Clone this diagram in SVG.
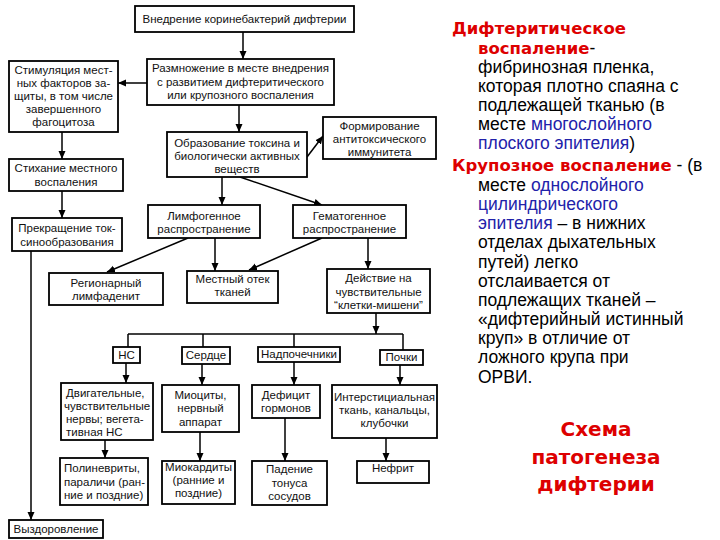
<svg xmlns="http://www.w3.org/2000/svg" width="720" height="540" viewBox="0 0 720 540">
<defs>
<marker id="ah" markerWidth="8" markerHeight="8" refX="8" refY="4" orient="auto" markerUnits="userSpaceOnUse">
<path d="M0,0.5 L8,4 L0,7.5 Z" fill="#000"/>
</marker>
<style>
.b{fill:#fff;stroke:#000;stroke-width:1.8}
.t{font-family:"Liberation Sans",Arial,sans-serif;font-size:11.5px;fill:#111;text-anchor:middle}
.l{text-anchor:start}
.c line,.c path{stroke:#000;stroke-width:1.5;fill:none}
.a{marker-end:url(#ah)}
.r{font-family:"Liberation Sans",Arial,sans-serif;font-size:17.5px;fill:#000}
.red{fill:#dd0000;font-weight:bold;font-family:"DejaVu Sans","Liberation Sans",sans-serif;font-size:16.5px}
.blue{fill:#2222aa}
.h{font-family:"DejaVu Sans","Liberation Sans",sans-serif;font-size:20px;font-weight:bold;fill:#dd0000;text-anchor:middle}
</style>
</defs>
<rect width="720" height="540" fill="#fff"/>

<g class="c" id="connectors">
<line class="a" x1="243" y1="32" x2="243" y2="59"/>
<line class="a" x1="147" y1="83" x2="118" y2="83"/>
<line class="a" x1="62" y1="132" x2="62" y2="159"/>
<line class="a" x1="62" y1="191" x2="62" y2="218"/>
<line class="a" x1="31" y1="251" x2="31" y2="520"/>
<line class="a" x1="239" y1="105" x2="239" y2="132"/>
<line class="a" x1="307" y1="157" x2="323" y2="136"/>
<line class="a" x1="222" y1="177" x2="222" y2="205"/>
<line class="a" x1="240" y1="177" x2="322" y2="205"/>
<line class="a" x1="188" y1="238" x2="107" y2="272"/>
<line class="a" x1="215" y1="238" x2="215" y2="271"/>
<line class="a" x1="322" y1="238" x2="249" y2="270"/>
<line class="a" x1="368" y1="238" x2="368" y2="269"/>
<line class="a" x1="376" y1="313" x2="376" y2="334"/>
<line x1="128" y1="334" x2="403" y2="334"/>
<line x1="128" y1="334" x2="128" y2="347"/>
<line x1="203" y1="334" x2="203" y2="347"/>
<line x1="294" y1="334" x2="294" y2="347"/>
<line x1="403" y1="334" x2="403" y2="350"/>
<line class="a" x1="126" y1="363" x2="126" y2="383"/>
<line class="a" x1="105" y1="440" x2="105" y2="458"/>
<line class="a" x1="202" y1="364" x2="202" y2="385"/>
<line class="a" x1="200" y1="432" x2="200" y2="461"/>
<line class="a" x1="294" y1="362" x2="294" y2="385"/>
<line class="a" x1="285" y1="418" x2="285" y2="461"/>
<line class="a" x1="400" y1="365" x2="400" y2="385"/>
<line class="a" x1="386" y1="438" x2="386" y2="461"/>
</g>

<g id="n-vnedrenie"><rect class="b" x="135" y="6" width="219" height="26"/><text class="t" x="244.5" y="23">Внедрение коринебактерий дифтерии</text></g>
<g id="n-razmnozhenie"><rect class="b" x="147" y="59" width="187" height="46"/><text class="t" x="240.5" y="72">Размножение в месте внедрения</text><text class="t" x="240.5" y="86">с развитием дифтеритического</text><text class="t" x="240.5" y="99">или крупозного воспаления</text></g>
<g id="n-stimul"><rect class="b" x="9" y="61" width="109" height="71"/><text class="t" x="63.5" y="74">Стимуляция мест-</text><text class="t" x="63.5" y="87">ных факторов за-</text><text class="t" x="63.5" y="100">щиты, в том числе</text><text class="t" x="63.5" y="113">завершенного</text><text class="t" x="63.5" y="126">фагоцитоза</text></g>
<g id="n-stihanie"><rect class="b" x="9" y="159" width="114" height="32"/><text class="t" x="66" y="172">Стихание местного</text><text class="t" x="66" y="186">воспаления</text></g>
<g id="n-prekrash"><rect class="b" x="12" y="218" width="110" height="33"/><text class="t" x="67" y="232">Прекращение ток-</text><text class="t" x="67" y="246">синообразования</text></g>
<g id="n-vyzdorov"><rect class="b" x="9" y="520" width="94" height="18"/><text class="t" x="56" y="533">Выздоровление</text></g>
<g id="n-toksin"><rect class="b" x="167" y="132" width="140" height="45"/><text class="t" x="237" y="147">Образование токсина и</text><text class="t" x="237" y="160">биологически активных</text><text class="t" x="237" y="173">веществ</text></g>
<g id="n-formir"><rect class="b" x="323" y="117" width="113" height="42"/><text class="t" x="379.5" y="130">Формирование</text><text class="t" x="379.5" y="143">антитоксического</text><text class="t" x="379.5" y="156">иммунитета</text></g>
<g id="n-limfo"><rect class="b" x="148" y="205" width="112" height="33"/><text class="t" x="204" y="220">Лимфогенное</text><text class="t" x="204" y="233">распространение</text></g>
<g id="n-gemato"><rect class="b" x="293" y="205" width="113" height="33"/><text class="t" x="349.5" y="220">Гематогенное</text><text class="t" x="349.5" y="233">распространение</text></g>
<g id="n-region"><rect class="b" x="49" y="273" width="114" height="32"/><text class="t" x="106" y="287">Регионарный</text><text class="t" x="106" y="300">лимфаденит</text></g>
<g id="n-otek"><rect class="b" x="187" y="271" width="91" height="32"/><text class="t" x="232.5" y="283">Местный отек</text><text class="t" x="232.5" y="296">тканей</text></g>
<g id="n-deistvie"><rect class="b" x="327" y="269" width="103" height="44"/><text class="t" x="378.5" y="282">Действие на</text><text class="t" x="378.5" y="296">чувствительные</text><text class="t" x="378.5" y="309">“клетки-мишени”</text></g>
<g id="n-ns"><rect class="b" x="113" y="347" width="27" height="16"/><text class="t" x="126.5" y="359">НС</text></g>
<g id="n-serdce"><rect class="b" x="182" y="347" width="48" height="17"/><text class="t" x="206" y="359">Сердце</text></g>
<g id="n-nadpoch"><rect class="b" x="258" y="347" width="82" height="15"/><text class="t" x="299" y="358">Надпочечники</text></g>
<g id="n-pochki"><rect class="b" x="380" y="350" width="43" height="15"/><text class="t" x="401.5" y="361">Почки</text></g>
<g id="n-dvigat"><rect class="b" x="61" y="383" width="92" height="57"/><text class="t l" x="66" y="397">Двигательные,</text><text class="t" x="107" y="410">чувствительные</text><text class="t l" x="66" y="423">нервы; вегета-</text><text class="t l" x="66" y="436">тивная НС</text></g>
<g id="n-polinevr"><rect class="b" x="60" y="458" width="88" height="47"/><text class="t l" x="64" y="472">Полиневриты,</text><text class="t l" x="64" y="486">параличи (ран-</text><text class="t l" x="64" y="499">ние и поздние)</text></g>
<g id="n-miocity"><rect class="b" x="162" y="385" width="77" height="47"/><text class="t" x="200.5" y="399">Миоциты,</text><text class="t" x="200.5" y="412">нервный</text><text class="t" x="200.5" y="426">аппарат</text></g>
<g id="n-miokard"><rect class="b" x="162" y="461" width="73" height="43"/><text class="t" x="198.5" y="471">Миокардиты</text><text class="t" x="198.5" y="484">(ранние и</text><text class="t" x="198.5" y="497">поздние)</text></g>
<g id="n-deficit"><rect class="b" x="252" y="385" width="68" height="33"/><text class="t" x="286" y="399">Дефицит</text><text class="t" x="286" y="412">гормонов</text></g>
<g id="n-padenie"><rect class="b" x="252" y="461" width="75" height="44"/><text class="t" x="289.5" y="473">Падение</text><text class="t" x="289.5" y="487">тонуса</text><text class="t" x="289.5" y="500">сосудов</text></g>
<g id="n-interst"><rect class="b" x="332" y="385" width="105" height="53"/><text class="t" x="384.5" y="401">Интерстициальная</text><text class="t" x="384.5" y="414">ткань, канальцы,</text><text class="t" x="384.5" y="427">клубочки</text></g>
<g id="n-nefrit"><rect class="b" x="357" y="461" width="72" height="22"/><text class="t" x="393" y="472">Нефрит</text></g>

<g id="description">
<text class="r" x="452" y="34"><tspan class="red">Дифтеритическое</tspan></text>
<text class="r" x="478" y="54"><tspan class="red">воспаление</tspan>-</text>
<text class="r" x="478" y="73">фибринозная пленка,</text>
<text class="r" x="478" y="92">которая плотно спаяна с</text>
<text class="r" x="478" y="111">подлежащей тканью (в</text>
<text class="r" x="478" y="130">месте <tspan class="blue">многослойного</tspan></text>
<text class="r" x="478" y="149"><tspan class="blue">плоского эпителия</tspan>)</text>
<text class="r" x="452" y="171"><tspan class="red">Крупозное воспаление</tspan> - (в</text>
<text class="r" x="478" y="191">месте <tspan class="blue">однослойного</tspan></text>
<text class="r" x="478" y="210"><tspan class="blue">цилиндрического</tspan></text>
<text class="r" x="478" y="229"><tspan class="blue">эпителия</tspan> – в нижних</text>
<text class="r" x="478" y="248">отделах дыхательных</text>
<text class="r" x="478" y="268">путей) легко</text>
<text class="r" x="478" y="287">отслаивается от</text>
<text class="r" x="478" y="306">подлежащих тканей –</text>
<text class="r" x="478" y="325">«дифтерийный истинный</text>
<text class="r" x="478" y="344">круп» в отличие от</text>
<text class="r" x="478" y="363">ложного крупа при</text>
<text class="r" x="478" y="383">ОРВИ.</text>
</g>
<g id="title">
<text class="h" x="596" y="436">Схема</text>
<text class="h" x="596" y="464">патогенеза</text>
<text class="h" x="596" y="491">дифтерии</text>
</g>
</svg>
